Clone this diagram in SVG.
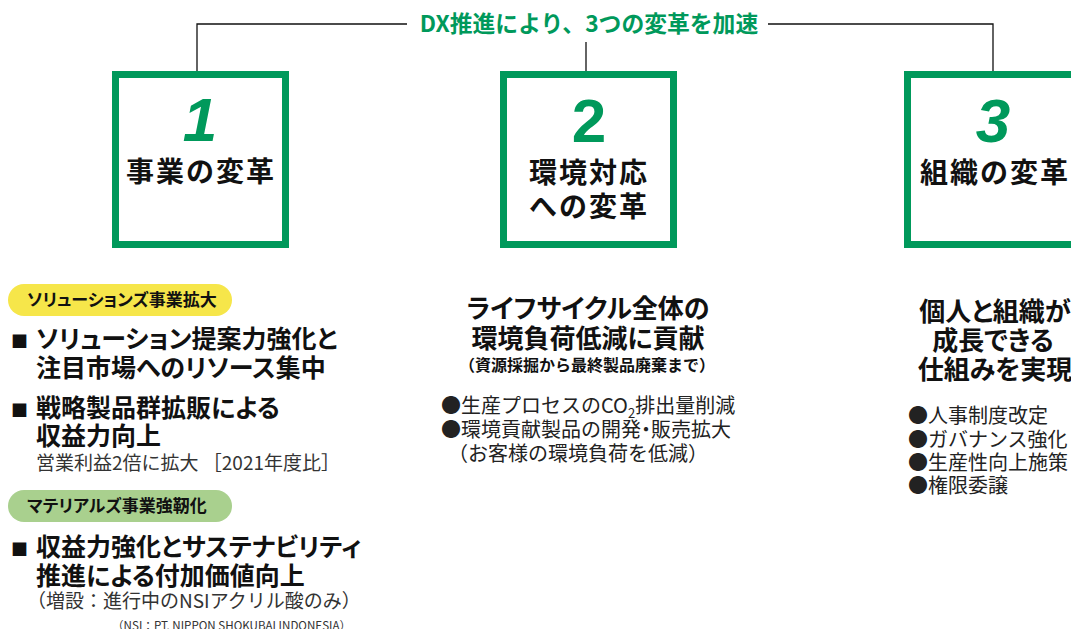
<svg xmlns="http://www.w3.org/2000/svg" width="1071" height="629" viewBox="0 0 1071 629">
<style>
.cjk{font-family:"Noto Sans CJK JP","Noto Sans",sans-serif}
.box{fill:#fff;stroke:#00995B;stroke-width:7}
.num{font-family:"Liberation Sans",Arial,sans-serif;font-weight:bold;font-size:62px;fill:#00995B;text-anchor:middle}
.btitle{font-family:"Noto Sans CJK JP",sans-serif;font-weight:bold;font-size:28px;fill:#111;text-anchor:middle;letter-spacing:2px}
.head{font-family:"Noto Sans CJK JP",sans-serif;font-weight:bold;font-size:25px;fill:#111;font-feature-settings:"palt"}
.headc{font-family:"Noto Sans CJK JP",sans-serif;font-weight:bold;font-size:26px;fill:#111;text-anchor:middle;font-feature-settings:"palt"}
.pill{font-family:"Noto Sans CJK JP",sans-serif;font-weight:bold;font-size:17px;fill:#111;font-feature-settings:"palt"}
.reg{font-family:"Noto Sans CJK JP",sans-serif;font-size:20px;fill:#222}
.note{font-family:"Noto Sans CJK JP",sans-serif;font-size:19px;fill:#333}
.sq{font-size:17px}
.pd{font-feature-settings:"palt"}
.conn{stroke:#111;stroke-width:1.3;fill:none}
</style>
<g id="connectors">
<path class="conn" d="M197,72 V24 H407"/>
<path class="conn" d="M768,24 H993 V72"/>
<path class="conn" d="M586,42 V72"/>
</g>
<g id="title">
<text x="589" y="32" class="cjk" font-weight="bold" font-size="22.8" fill="#00995B" text-anchor="middle">DX推進により、3つの変革を加速</text>
</g>
<g id="node-1">
<rect class="box" x="115.5" y="74.5" width="170" height="170"/>
<text class="num" x="200" y="141" font-style="italic">1</text>
<text class="btitle" x="201" y="182">事業の変革</text>
</g>
<g id="node-2">
<rect class="box" x="503.5" y="74.5" width="170" height="170"/>
<text class="num" x="589" y="142">2</text>
<text class="btitle" x="589" y="183">環境対応</text>
<text class="btitle" x="589" y="217">への変革</text>
</g>
<g id="node-3">
<rect class="box" x="907.5" y="74.5" width="170" height="170"/>
<text class="num" x="993" y="142" font-style="italic">3</text>
<text class="btitle" x="995" y="183">組織の変革</text>
</g>
<g id="detail-1">
<rect x="8" y="284" width="224" height="32" rx="16" fill="#F6E64A"/>
<text class="pill" x="27" y="306">ソリューションズ事業拡大</text>
<text class="head" y="348"><tspan class="sq" x="11">■</tspan><tspan x="36">ソリューション提案力強化と</tspan></text>
<text class="head" x="36" y="377">注目市場へのリソース集中</text>
<text class="head" y="417"><tspan class="sq" x="11">■</tspan><tspan x="36">戦略製品群拡販による</tspan></text>
<text class="head" x="36" y="445">収益力向上</text>
<text class="note" x="36" y="470" font-size="20">営業利益2倍に拡大 ［2021年度比］</text>
<rect x="8" y="490" width="224" height="32" rx="16" fill="#A9D08E"/>
<text class="pill" x="27" y="512">マテリアルズ事業強靭化</text>
<text class="head" y="556"><tspan class="sq" x="11">■</tspan><tspan x="36">収益力強化とサステナビリティ</tspan></text>
<text class="head" x="36" y="585">推進による付加価値向上</text>
<text class="note" x="27" y="608">（増設：進行中のNSIアクリル酸のみ）</text>
<text class="cjk" x="112" y="630" font-size="11.6" fill="#333">（NSI：PT. NIPPON SHOKUBAI INDONESIA）</text>
</g>
<g id="detail-2">
<text class="headc" x="588" y="318">ライフサイクル全体の</text>
<text class="headc" x="588" y="348">環境負荷低減に貢献</text>
<text class="cjk" x="587" y="371" font-weight="bold" font-size="16" fill="#111" text-anchor="middle">（資源採掘から最終製品廃棄まで）</text>
<text class="reg" x="441" y="413">●生産プロセスのCO<tspan font-size="13" dy="5">2</tspan><tspan dy="-5">排出量削減</tspan></text>
<text class="reg" x="441" y="437">●環境貢献製品の開発<tspan class="pd">・</tspan>販売拡大</text>
<text class="reg" x="448" y="461">（お客様の環境負荷を低減）</text>
</g>
<g id="detail-3">
<text class="headc" x="995" y="321">個人と組織が</text>
<text class="headc" x="993" y="350">成長できる</text>
<text class="headc" x="995" y="379">仕組みを実現</text>
<text class="reg" x="908" y="423">●人事制度改定</text>
<text class="reg" x="908" y="446.5">●ガバナンス強化</text>
<text class="reg" x="908" y="470">●生産性向上施策</text>
<text class="reg" x="908" y="493">●権限委譲</text>
</g>
</svg>
